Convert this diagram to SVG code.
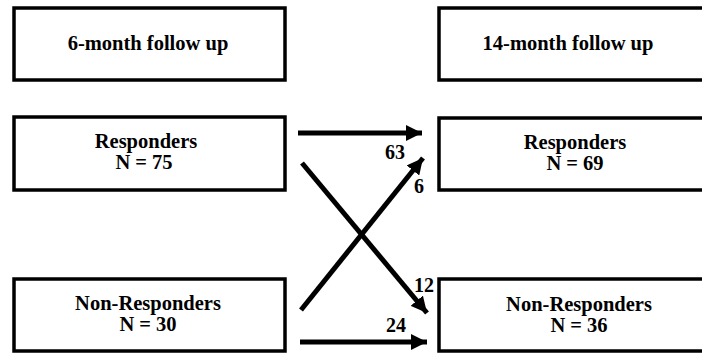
<svg xmlns="http://www.w3.org/2000/svg" width="702" height="354" viewBox="0 0 702 354">
<style>
.box{fill:#fff;stroke:#000;stroke-width:3.5}
.t{font-family:"Liberation Serif","Times New Roman",Times,serif;font-weight:bold;font-size:20.5px;fill:#000;text-anchor:middle}
.n{font-family:"Liberation Serif","Times New Roman",Times,serif;font-weight:bold;font-size:20px;fill:#000;text-anchor:middle}
.c{stroke:#000;stroke-width:5;fill:none}
</style>
<defs>
<marker id="ah" viewBox="0 0 10 10" refX="10" refY="5" markerWidth="3.2" markerHeight="3.2" orient="auto" markerUnits="strokeWidth">
<path d="M0,0 L10,5 L0,10 z" fill="#000"/>
</marker>
</defs>
<rect width="702" height="354" fill="#fff"/>
<g id="n6">
<rect class="box" x="14" y="8" width="271" height="72"/>
<text class="t" x="148" y="50">6-month follow up</text>
</g>
<g id="n14">
<rect class="box" x="439" y="8" width="270" height="72"/>
<text class="t" x="568" y="50">14-month follow up</text>
</g>
<g id="r6">
<rect class="box" x="14" y="117" width="271" height="73"/>
<text class="t" x="146" y="148">Responders</text>
<text class="t" x="144" y="169">N = 75</text>
</g>
<g id="r14">
<rect class="box" x="439" y="118" width="270" height="72"/>
<text class="t" x="575" y="149">Responders</text>
<text class="t" x="575" y="170">N = 69</text>
</g>
<g id="nr6">
<rect class="box" x="14" y="279" width="271" height="72"/>
<text class="t" x="148" y="310">Non-Responders</text>
<text class="t" x="148" y="331">N = 30</text>
</g>
<g id="nr14">
<rect class="box" x="439" y="279" width="270" height="72"/>
<text class="t" x="579" y="311">Non-Responders</text>
<text class="t" x="579" y="332">N = 36</text>
</g>
<g id="connectors">
<line class="c" x1="298" y1="133" x2="422" y2="133" marker-end="url(#ah)"/>
<line class="c" x1="302" y1="163" x2="427" y2="313" marker-end="url(#ah)"/>
<line class="c" x1="301" y1="310" x2="423" y2="158" marker-end="url(#ah)"/>
<line class="c" x1="300" y1="342" x2="427" y2="342" marker-end="url(#ah)"/>
<text class="n" x="395" y="159">63</text>
<text class="n" x="419" y="193">6</text>
<text class="n" x="424" y="292">12</text>
<text class="n" x="396" y="332">24</text>
</g>
</svg>
